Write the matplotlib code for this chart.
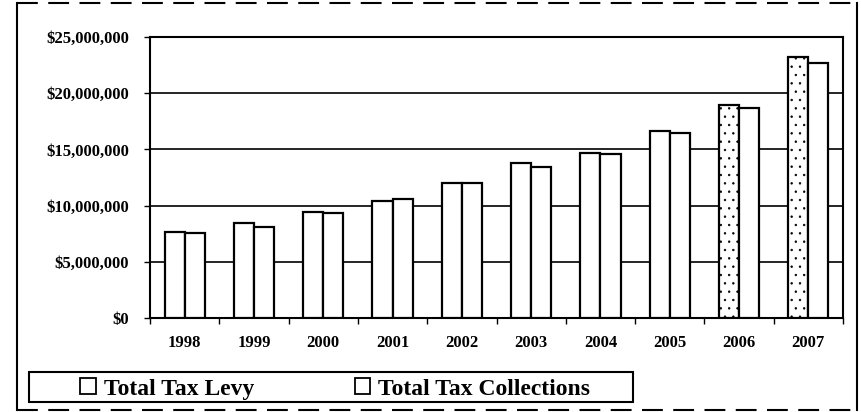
import numpy as np
import matplotlib.pyplot as plt
from matplotlib.patches import Rectangle
from matplotlib.lines import Line2D
from matplotlib.ticker import FuncFormatter, FixedLocator

years = ['1998', '1999', '2000', '2001', '2002', '2003', '2004', '2005', '2006', '2007']
tax_levy = [7620000, 8450000, 9400000, 10440000, 12040000, 13790000, 14710000, 16640000, 18980000, 23190000]
tax_collections = [7530000, 8120000, 9380000, 10590000, 12040000, 13460000, 14590000, 16460000, 18710000, 22660000]
series_names = ['Total Tax Levy', 'Total Tax Collections']

plt.rcParams['font.family'] = ['Liberation Serif', 'DejaVu Serif']
plt.rcParams['font.weight'] = 'bold'
plt.rcParams['hatch.color'] = '#b5b5b5'
plt.rcParams['hatch.linewidth'] = 0.5

fig = plt.figure(figsize=(8.62, 4.12), dpi=100)
ax = fig.add_axes([150/862, 1 - 318/412, (843 - 150)/862, (318 - 37)/412])

x = np.arange(len(years))
w = 0.29
bars1 = ax.bar(x - w/2, tax_levy, w, color='white', edgecolor='black', linewidth=1.6, zorder=3)
bars2 = ax.bar(x + w/2, tax_collections, w, color='white', edgecolor='black', linewidth=1.6, zorder=3)

# speckled fill on the last two levy bars
for b in list(bars1)[-2:]:
    b.set_hatch('..')

ax.set_xlim(-0.5, len(years) - 0.5)
ax.set_ylim(0, 25000000)
ax.set_yticks(np.arange(0, 25000001, 5000000))
ax.yaxis.set_major_formatter(FuncFormatter(lambda v, p: '${:,.0f}'.format(v)))
ax.yaxis.grid(True, color='black', linewidth=1.2, zorder=0)
ax.set_axisbelow(True)

ax.set_xticks(x)
ax.set_xticklabels(years)
ax.xaxis.set_minor_locator(FixedLocator(np.arange(-0.5, len(years), 1)))
ax.tick_params(axis='x', which='major', length=0, pad=12, labelsize=12)
ax.tick_params(axis='x', which='minor', length=4, width=1, direction='out')
ax.tick_params(axis='y', length=4, width=1, direction='out', labelsize=12, pad=11)
for lbl in ax.get_xticklabels() + ax.get_yticklabels():
    lbl.set_fontweight('bold')
for s in ax.spines.values():
    s.set_linewidth(1.5)
    s.set_color('black')

# outer chart frame
fig.add_artist(Line2D([17/862, 17/862], [2/412, 409/412], color='black', lw=1.5))
fig.add_artist(Line2D([857/862, 857/862], [2/412, 409/412], color='black', lw=1.5))
fig.add_artist(Line2D([17/862, 857/862], [409/412, 409/412], color='black', lw=1.5, ls=(0, (10, 5))))
fig.add_artist(Line2D([17/862, 857/862], [2/412, 2/412], color='black', lw=1.5, ls=(0, (10, 5))))

# legend box
fig.add_artist(Rectangle((29/862, 1 - 402/412), (633 - 29)/862, 30/412, transform=fig.transFigure,
                         fill=False, edgecolor='black', linewidth=1.5))
handles = [Rectangle((0, 0), 1, 1, facecolor='white', edgecolor='black', linewidth=1.3) for _ in series_names]
fig.legend(handles, series_names, loc='center left', bbox_to_anchor=(80/862, 1 - 389/412),
           ncol=2, frameon=False, prop={'size': 17, 'weight': 'bold'},
           handlelength=0.66, handleheight=0.66, handletextpad=0.35, columnspacing=4.25,
           borderpad=0, borderaxespad=0)

fig.savefig('out.png', dpi=100)
